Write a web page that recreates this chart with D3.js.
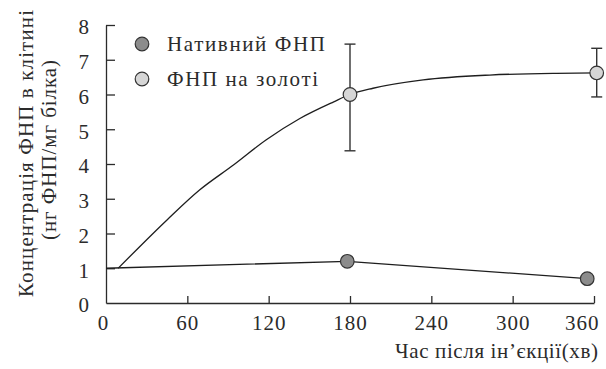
<!DOCTYPE html>
<html>
<head>
<meta charset="utf-8">
<script src="https://cdn.jsdelivr.net/npm/d3@7"></script>
</head>
<body style="margin:0; background:#fff">
<div id="chart"></div>
<script>
const xTicks = [0, 60, 120, 180, 240, 300, 360];
const yTicks = [0, 1, 2, 3, 4, 5, 6, 7, 8];

// нативний ФНП
const nativeTimes = [0, 178, 355];
const nativeValues = [1.0, 1.2, 0.7];
const nativeMarked = [false, true, true];

// ФНП на золоті: лінія і точки з похибками
const goldLineTimes = [9, 45, 69, 94, 118, 143, 168, 180, 197, 234, 283, 332, 362];
const goldLineValues = [1.0, 2.39, 3.25, 3.97, 4.69, 5.31, 5.79, 6.0, 6.18, 6.42, 6.56, 6.61, 6.62];
const goldTimes = [180, 362];
const goldValues = [6.0, 6.62];
const goldLow = [4.38, 5.93];
const goldHigh = [7.45, 7.33];

const legendLabels = ['Нативний ФНП', 'ФНП на золоті'];
const legendColors = ['#8c8c8c', '#d6d6d6'];

const FONT = "'Liberation Serif', 'Times New Roman', serif";
const INK = '#2b2b2b';

const margin = {top: 25, right: 12, bottom: 66, left: 106};
const W = 606, H = 369;
const height = H - margin.top - margin.bottom;

const svg = d3.select('#chart')
	.append('svg')
	.attr('width', W)
	.attr('height', H)
	.style('font-family', FONT, 'important');

const g = svg.append('g')
	.attr('transform', `translate(${margin.left}, ${margin.top})`);

const x = d3.scaleLinear()
	.domain([0, 360])
	.range([0, 488]);

const y = d3.scaleLinear()
	.domain([0, 8])
	.range([height, 0]);

function styleAxis(s) {
	s.attr('font-family', null).attr('font-size', null);
	s.select('.domain').attr('stroke', INK).attr('stroke-width', 1.3).attr('fill', 'none');
	s.selectAll('.tick line').attr('stroke', INK).attr('stroke-width', 1.3);
	s.selectAll('.tick text')
		.style('font-family', FONT, 'important')
		.attr('font-size', 21)
		.attr('letter-spacing', 1)
		.attr('fill', INK);
}

g.append('g')
	.attr('transform', `translate(0, ${height})`)
	.call(d3.axisBottom(x).tickValues(xTicks).tickSize(-7).tickSizeOuter(0).tickPadding(12))
	.call(styleAxis)
	.call(s => s.selectAll('.tick').filter(d => d === 0).select('line').remove())
	.call(s => s.selectAll('.tick').filter(d => d === 0).select('text').attr('x', -3))
	.call(s => s.selectAll('.tick').filter(d => d === 360).select('text').attr('text-anchor', 'end').attr('x', 5));

g.append('g')
	.call(d3.axisLeft(y).tickValues(yTicks).tickSize(-9).tickSizeOuter(0).tickPadding(16))
	.call(styleAxis)
	.call(s => s.selectAll('.tick').filter(d => d === 0).select('line').remove())
	.call(s => s.selectAll('.tick text').attr('dy', '0.42em'));

const nativeData = nativeTimes.map((t, i) => ({t: t, v: nativeValues[i], m: nativeMarked[i]}));
const goldLine = goldLineTimes.map((t, i) => ({t: t, v: goldLineValues[i]}));
const goldData = goldTimes.map((t, i) => ({t: t, v: goldValues[i], lo: goldLow[i], hi: goldHigh[i]}));

g.append('path')
	.datum(nativeData)
	.attr('fill', 'none')
	.attr('stroke', '#1e1e1e')
	.attr('stroke-width', 1.3)
	.attr('d', d3.line().x(d => x(d.t)).y(d => y(d.v)));

g.append('path')
	.datum(goldLine)
	.attr('fill', 'none')
	.attr('stroke', '#1e1e1e')
	.attr('stroke-width', 1.3)
	.attr('d', d3.line().x(d => x(d.t)).y(d => y(d.v)).curve(d3.curveMonotoneX));

// error bars
goldData.forEach(d => {
	g.append('line')
		.attr('x1', x(d.t)).attr('x2', x(d.t))
		.attr('y1', y(d.lo)).attr('y2', y(d.hi))
		.attr('stroke', '#333').attr('stroke-width', 1.4);
	[d.lo, d.hi].forEach(v => {
		g.append('line')
			.attr('x1', x(d.t) - 5.5).attr('x2', x(d.t) + 5.5)
			.attr('y1', y(v)).attr('y2', y(v))
			.attr('stroke', '#333').attr('stroke-width', 1.4);
	});
});

g.selectAll('.native-pt')
	.data(nativeData.filter(d => d.m))
	.join('circle')
	.attr('cx', d => x(d.t))
	.attr('cy', d => y(d.v))
	.attr('r', 6.8)
	.attr('fill', legendColors[0])
	.attr('stroke', '#333')
	.attr('stroke-width', 1.2);

g.selectAll('.gold-pt')
	.data(goldData)
	.join('circle')
	.attr('cx', d => x(d.t))
	.attr('cy', d => y(d.v))
	.attr('r', 6.8)
	.attr('fill', legendColors[1])
	.attr('stroke', '#333')
	.attr('stroke-width', 1.2);

function label(sel, str, len) {
	return sel.append('text')
		.style('font-family', FONT, 'important')
		.attr('font-size', 21)
		.attr('fill', INK)
		.attr('textLength', len)
		.attr('lengthAdjust', 'spacing')
		.text(str);
}

// legend
const legend = svg.append('g');
const legendLens = [158, 151];
legendLabels.forEach((lab, i) => {
	legend.append('circle')
		.attr('cx', 142)
		.attr('cy', 44 + i * 35)
		.attr('r', 6.8)
		.attr('fill', legendColors[i])
		.attr('stroke', '#333')
		.attr('stroke-width', 1.2);
	label(legend, lab, legendLens[i])
		.attr('x', 167)
		.attr('y', 44 + i * 35)
		.attr('dy', '0.35em');
});

// axis titles
label(svg, 'Час після ін’єкції(хв)', 203)
	.attr('x', 395)
	.attr('y', 358);

label(svg, 'Концентрація ФНП в клітині', 287)
	.attr('text-anchor', 'middle')
	.attr('transform', 'translate(33, 153.5) rotate(-90)');

label(svg, '(нг ФНП/мг білка)', 180)
	.attr('text-anchor', 'middle')
	.attr('transform', 'translate(56, 150) rotate(-90)');
</script>
</body>
</html>
